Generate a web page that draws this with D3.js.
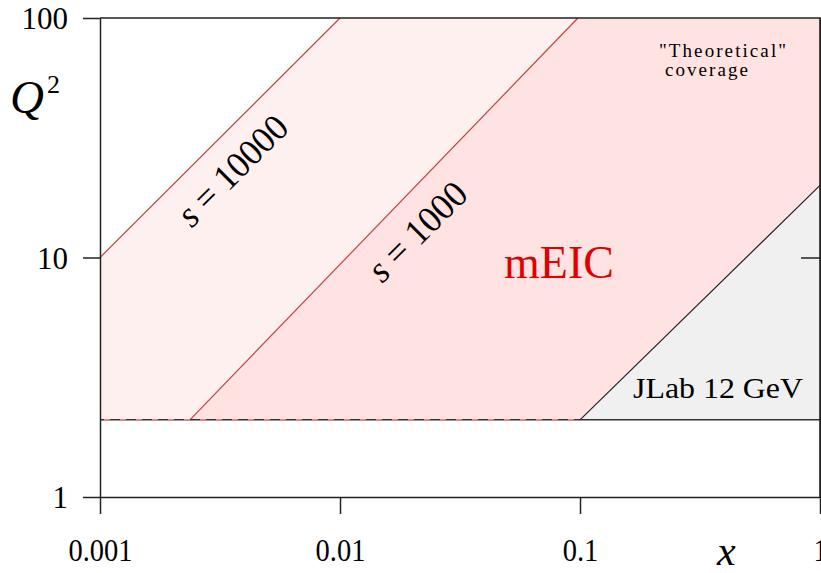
<!DOCTYPE html>
<html><head><meta charset="utf-8">
<script src="https://cdn.jsdelivr.net/npm/d3@7"></script>
<style>body{margin:0;background:#fff}svg{display:block}text{font-family:"Liberation Serif","Times New Roman",serif}</style>
</head><body>
<svg id="c" width="821" height="573"></svg>
<script>
// ---- data ----
const xTicks = [0.001, 0.01, 0.1, 1];
const xTickLabels = ["0.001", "0.01", "0.1", "1"];
const yTicks = [1, 10, 100];
const yTickLabels = ["1", "10", "100"];
const q2Min = 2.1;
const s10000Line = [[0.001, 10], [0.01, 100]];
const s1000Line = [[0.00237, 2.1], [0.098, 100]];
const jlabLine = [[0.1, 2.1], [1, 20]];
const sLabels = [" = 10000", " = 1000"];
const regionLabels = ["mEIC", "JLab 12 GeV"];

const svg = d3.select("#c");
const L = 100, R = 820, T = 18, B = 497;
const x = d3.scaleLog().domain([0.001, 1]).range([L, R]);
const y = d3.scaleLog().domain([1, 100]).range([B, T]);
const P = pts => "M" + pts.map(d => x(d[0]) + "," + y(d[1])).join("L") + "Z";

svg.append("path").attr("d", P([[0.001, q2Min], [0.001, 10], s10000Line[1], s1000Line[1], s1000Line[0]]))
  .attr("fill", "#fff0f0");
svg.append("path").attr("d", P([s1000Line[0], s1000Line[1], [1, 100], jlabLine[1], jlabLine[0]]))
  .attr("fill", "#ffe2e2");
svg.append("path").attr("d", P([jlabLine[0], jlabLine[1], [1, q2Min]]))
  .attr("fill", "#f0f0f0");

const line = d3.line().x(d => x(d[0])).y(d => y(d[1]));
svg.append("path").attr("d", line(s10000Line)).attr("stroke", "#c84040").attr("stroke-width", 1.2).attr("fill", "none");
svg.append("path").attr("d", line(s1000Line)).attr("stroke", "#c84040").attr("stroke-width", 1.2).attr("fill", "none");
svg.append("path").attr("d", line(jlabLine)).attr("stroke", "#222").attr("stroke-width", 1.2).attr("fill", "none");

svg.append("path").attr("d", line([[0.001, q2Min], [1, q2Min]])).attr("stroke", "#333").attr("stroke-width", 1.5);
svg.append("path").attr("d", line([[0.001, q2Min], [0.1, q2Min]])).attr("stroke", "#ef8080")
  .attr("stroke-width", 1.8).attr("stroke-dasharray", "6,10").attr("stroke-dashoffset", -4);

svg.append("path").attr("d", `M${L},${T}H${R}V${B}`).attr("stroke", "#222").attr("stroke-width", 1.5).attr("fill", "none");

const gx = svg.append("g").attr("transform", `translate(0,${B})`)
  .call(d3.axisBottom(x).tickValues(xTicks).tickSize(17).tickSizeOuter(0).tickFormat((d, i) => xTickLabels[i]));
gx.selectAll("text").attr("y", 0).attr("dy", 64).attr("font-size", 31).attr("fill", "#000")
  .attr("transform", "scale(0.92,1)");
const gy = svg.append("g").attr("transform", `translate(${L},0)`)
  .call(d3.axisLeft(y).tickValues(yTicks).tickSize(17).tickSizeOuter(0).tickPadding(15).tickFormat((d, i) => yTickLabels[i]));
gy.selectAll("text").attr("font-size", 31).attr("fill", "#000").attr("dy", "0.34em");
const gr = svg.append("g").attr("transform", `translate(${R},0)`)
  .call(d3.axisRight(y).tickValues([10]).tickSize(-19).tickSizeOuter(0).tickFormat(""));
[gx, gy, gr].forEach(g => { g.selectAll("path,line").attr("stroke", "#222").attr("stroke-width", 1.5); g.attr("font-family", null); });

const q = svg.append("text").attr("x", 10).attr("y", 113).attr("font-size", 47).attr("font-style", "italic").text("Q");
q.append("tspan").attr("font-size", 26).attr("font-style", "normal").attr("dy", -20).attr("dx", 3).text("2");
svg.append("text").attr("x", 717).attr("y", 565).attr("font-size", 42).attr("font-style", "italic").text("x");

[[232, 170, 140], [417, 231, 124]].forEach((p, i) => {
  const t = svg.append("text").attr("transform", `translate(${p[0]},${p[1]}) rotate(-45)`).attr("text-anchor", "middle")
    .attr("dy", "0.35em").attr("font-size", 37).attr("textLength", p[2]).attr("lengthAdjust", "spacingAndGlyphs");
  t.append("tspan").attr("font-style", "italic").text("s");
  t.append("tspan").text(sLabels[i]);
});
svg.append("text").attr("x", 559).attr("y", 278).attr("text-anchor", "middle").attr("font-size", 46).attr("fill", "#e00000").text(regionLabels[0]);
svg.append("text").attr("x", 633).attr("y", 398).attr("font-size", 30).attr("textLength", 170).attr("lengthAdjust", "spacingAndGlyphs").text(regionLabels[1]);
svg.append("text").attr("x", 659).attr("y", 57).attr("font-size", 19).attr("textLength", 127).attr("lengthAdjust", "spacing").text('"Theoretical"');
svg.append("text").attr("x", 665).attr("y", 76).attr("font-size", 19).attr("textLength", 83).attr("lengthAdjust", "spacing").text("coverage");
</script>
</body></html>
